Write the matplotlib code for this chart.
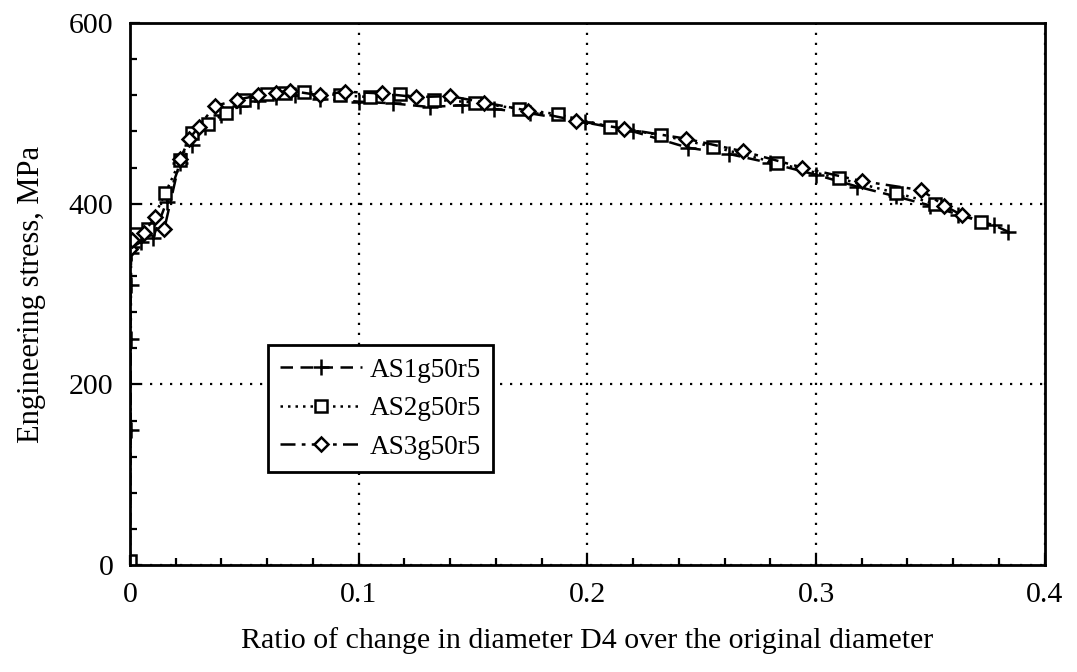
import matplotlib
matplotlib.use("Agg")
import matplotlib.pyplot as plt
from matplotlib.ticker import MultipleLocator

plt.rcParams['font.family'] = ['Liberation Serif', 'DejaVu Serif']

# AS1g50r5 (plus, dashed)
as1_x = [0, 0.0003, 0.0003, 0.0003, 0.0005, 0.001, 0.005, 0.010, 0.016, 0.022, 0.027, 0.033,
         0.040, 0.048, 0.056, 0.064, 0.072, 0.083, 0.100, 0.115, 0.131, 0.145, 0.159,
         0.175, 0.199, 0.220, 0.244, 0.262, 0.280, 0.300, 0.318, 0.335, 0.350, 0.362,
         0.378, 0.384]
as1_y = [0, 150, 250, 310, 345, 352, 358, 362, 402, 445, 465, 485,
         498, 508, 514, 518, 520, 516, 513, 511, 507, 509, 505,
         500, 490, 480, 462, 455, 445, 432, 419, 408, 398, 388,
         376, 369]

# AS2g50r5 (square, dotted)
as2_x = [0, 0.0005, 0.002, 0.008, 0.0155, 0.022, 0.027, 0.034, 0.042, 0.050, 0.060,
         0.068, 0.076, 0.092, 0.105, 0.118, 0.133, 0.151, 0.170, 0.187, 0.210, 0.232,
         0.255, 0.283, 0.310, 0.335, 0.352, 0.372]
as2_y = [5, 365, 366, 372, 412, 448, 478, 488, 500, 515, 521,
         523, 524, 520, 518, 521, 515, 512, 505, 499, 485, 476,
         463, 445, 428, 412, 400, 380]

# AS3g50r5 (diamond, dash-dot)
as3_x = [0, 0.001, 0.006, 0.011, 0.015, 0.022, 0.026, 0.030, 0.037, 0.047, 0.056,
         0.064, 0.070, 0.083, 0.094, 0.110, 0.125, 0.140, 0.155, 0.174, 0.195,
         0.216, 0.243, 0.268, 0.294, 0.320, 0.346, 0.356, 0.364]
as3_y = [350, 360, 368, 385, 372, 450, 472, 485, 508, 515, 520,
         523, 525, 520, 524, 522, 518, 519, 512, 503, 492,
         483, 472, 458, 440, 425, 415, 398, 387]

labels = ["AS1g50r5", "AS2g50r5", "AS3g50r5"]
x_ticks = [0, 0.1, 0.2, 0.3, 0.4]
x_ticklabels = ["0", "0.1", "0.2", "0.3", "0.4"]
y_ticks = [0, 200, 400, 600]

fig = plt.figure(figsize=(10.77, 6.72), dpi=100)
ax = fig.add_axes([0.1207, 0.159, 0.8493, 0.8068])

lw = 1.8
ax.plot(as1_x, as1_y, linestyle=(0, (5, 3)), color='black', lw=lw,
        marker='+', markersize=11, markeredgewidth=1.8, label=labels[0])
ax.plot(as2_x, as2_y, linestyle=(0, (1, 2)), color='black', lw=lw,
        marker='s', markersize=8, markerfacecolor='white', markeredgewidth=1.8,
        label=labels[1])
ax.plot(as3_x, as3_y, linestyle=(0, (6, 2.5, 1.5, 2.5)), color='black', lw=lw,
        marker='D', markersize=7, markerfacecolor='white', markeredgewidth=1.8,
        label=labels[2])

ax.set_xlim(0, 0.4)
ax.set_ylim(0, 600)
ax.set_xticks(x_ticks)
ax.set_xticklabels(x_ticklabels)
ax.set_yticks(y_ticks)
ax.xaxis.set_minor_locator(MultipleLocator(0.02))
ax.yaxis.set_minor_locator(MultipleLocator(40))
ax.tick_params(which='both', direction='in', top=False, right=False,
               labelsize=21.5, width=1.6)
ax.tick_params(which='major', length=7, pad=12)
ax.tick_params(which='minor', length=5)

ax.grid(True, which='major', color='black', linestyle=(0, (1, 3.5)), linewidth=1.6)
for s in ax.spines.values():
    s.set_linewidth(2)

ax.set_xlabel("Ratio of change in diameter D4 over the original diameter",
              fontsize=21.5, labelpad=14)
ax.set_ylabel("Engineering stress, MPa", fontsize=22, labelpad=16)

leg = ax.legend(loc='lower left', bbox_to_anchor=(0.151, 0.172), borderaxespad=0,
                fontsize=19.5, handlelength=3.0, numpoints=1, fancybox=False,
                framealpha=1, edgecolor='black', borderpad=0.45, labelspacing=0.5,
                handletextpad=0.3)
leg.get_frame().set_linewidth(2)

fig.savefig("out.png", dpi=100)
